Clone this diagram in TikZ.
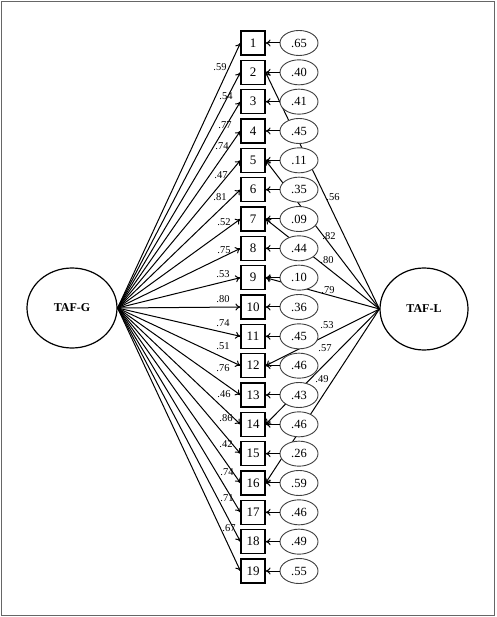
\documentclass[tikz,border=0pt]{standalone}
\usepackage{fontspec}
\setmainfont{Liberation Serif}
\usetikzlibrary{arrows.meta,shapes.geometric}
\pgfdeclarelayer{bg}
\pgfsetlayers{bg,main}
\begin{document}
\begin{tikzpicture}[x=1pt,y=-1pt,
  item/.style={draw,fill=white,line width=1.2pt,minimum width=24pt,minimum height=24pt,inner sep=0pt,font=\fontsize{13}{15}\selectfont},
  err/.style={draw=black!75,fill=white,ellipse,line width=0.9pt,minimum width=38pt,minimum height=25pt,inner sep=0pt,font=\fontsize{12.5}{14}\selectfont},
  lat/.style={draw,ellipse,line width=1.2pt,inner sep=0pt,font=\bfseries\fontsize{12}{14}\selectfont},
  ld/.style={font=\fontsize{10.5}{12}\selectfont,inner sep=0pt},
  arr/.style={line width=1pt,-{To[length=5pt,width=7pt]}},
]
\useasboundingbox (0,0) rectangle (496,617);
\draw[black!60,line width=1.5pt] (1.5,1.5) rectangle (494.5,615.5);
\node[lat,minimum width=90pt,minimum height=80pt] (G) at (72,308) {TAF-G};
\node[lat,minimum width=88pt,minimum height=82pt] (L) at (424,309) {TAF-L};
\foreach \e [count=\i] in {.65,.40,.41,.45,.11,.35,.09,.44,.10,.36,.45,.46,.43,.46,.26,.59,.46,.49,.55} {
  \node[item] (b\i) at (253,{43+(\i-1)*29.333}) {\i};
  \node[err] (e\i) at (299,{43+(\i-1)*29.333}) {\e};
  \draw[arr] (e\i) -- (b\i);
  \draw[arr] (G.east) -- (b\i.west);
}
\begin{pgfonlayer}{bg}
\foreach \k in {2,5,7,9,12,14,16} {
  \draw[arr] (L.west) -- (b\k.east);
}
\end{pgfonlayer}
% general factor loadings
\node[ld] (g1) at (220,67) {.59};
\node[ld] (g2) at (226,96) {.54};
\node[ld] (g3) at (225,125) {.77};
\node[ld] (g4) at (222,146) {.74};
\node[ld] (g5) at (221,175) {.47};
\node[ld] (g6) at (220,197) {.81};
\node[ld] (g7) at (224,222) {.52};
\node[ld] (g8) at (224,250) {.75};
\node[ld] (g9) at (223,274) {.53};
\node[ld] (g10) at (223,299) {.80};
\node[ld] (g11) at (223,323) {.74};
\node[ld] (g12) at (223,346) {.51};
\node[ld] (g13) at (223,368) {.76};
\node[ld] (g14) at (224,394) {.46};
\node[ld] (g15) at (226,418) {.86};
\node[ld] (g16) at (226,444) {.42};
\node[ld] (g17) at (227,472) {.74};
\node[ld] (g18) at (227,498) {.71};
\node[ld] (g19) at (229,528) {.67};
% local factor loadings
\node[ld] (l2) at (333,197) {.56};
\node[ld] (l5) at (329,236) {.82};
\node[ld] (l7) at (327,260) {.80};
\node[ld] (l9) at (328,290) {.79};
\node[ld] (l12) at (327,325) {.53};
\node[ld] (l14) at (325,348) {.57};
\node[ld] (l16) at (322,379) {.49};
\end{tikzpicture}
\end{document}
